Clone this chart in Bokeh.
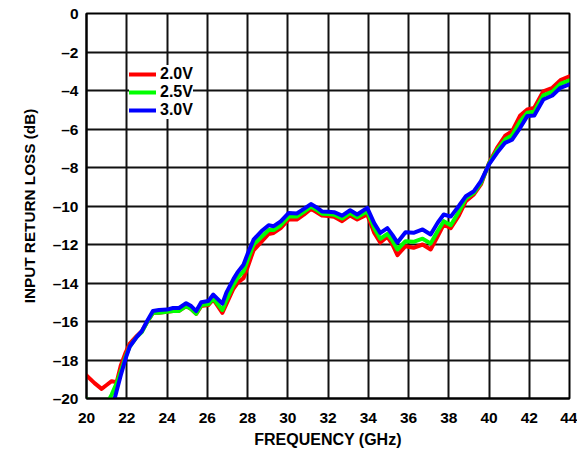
import numpy as np
from bokeh.plotting import figure
from bokeh.models import FixedTicker, Legend, LegendItem, Range1d
from bokeh.embed import file_html
from bokeh.resources import INLINE

freq = [20.0, 20.4, 20.75, 21.0, 21.25, 21.5, 21.7, 21.95, 22.15, 22.5, 22.75, 23.0,
        23.3, 23.6, 24.0, 24.3, 24.6, 24.95, 25.2, 25.45, 25.7, 26.05, 26.3, 26.75,
        26.95, 27.3, 27.5, 27.8, 28.0, 28.3, 28.7, 29.05, 29.3, 29.65, 30.05, 30.45,
        30.8, 31.15, 31.4, 31.7, 32.0, 32.3, 32.7, 33.1, 33.45, 33.95, 34.3, 34.6,
        34.95, 35.2, 35.45, 35.85, 36.25, 36.7, 37.1, 37.45, 37.75, 38.1, 38.5, 38.85,
        39.25, 39.6, 40.0, 40.4, 40.8, 41.15, 41.55, 41.9, 42.25, 42.7, 43.15, 43.55, 44.0]

v20 = [-18.8, -19.2, -19.5, -19.3, -19.1, -19.15, -18.3, -17.6, -17.15, -16.75, -16.5, -16.05,
       -15.55, -15.55, -15.5, -15.45, -15.45, -15.2, -15.35, -15.6, -15.2, -15.15, -14.85, -15.55,
       -15.1, -14.3, -14.0, -13.75, -13.2, -12.3, -11.85, -11.45, -11.4, -11.15, -10.7, -10.7,
       -10.45, -10.15, -10.3, -10.5, -10.52, -10.56, -10.79, -10.49, -10.7, -10.44, -11.4, -11.9,
       -11.6, -12.0, -12.55, -12.09, -12.17, -12.0, -12.26, -11.57, -10.96, -11.15, -10.5, -9.75,
       -9.4, -8.88, -7.76, -6.98, -6.35, -6.11, -5.3, -4.99, -4.9, -4.04, -3.86, -3.46, -3.26]

v25 = [-20.0, -20.4, -20.6, -20.3, -19.8, -19.2, -18.6, -17.8, -17.3, -16.8, -16.55, -16.05,
       -15.55, -15.55, -15.5, -15.45, -15.45, -15.2, -15.35, -15.6, -15.15, -15.1, -14.8, -15.4,
       -14.9, -14.1, -13.75, -13.4, -12.85, -12.0, -11.6, -11.25, -11.25, -11.0, -10.55, -10.55,
       -10.3, -10.03, -10.18, -10.4, -10.42, -10.45, -10.65, -10.36, -10.58, -10.28, -11.15, -11.7,
       -11.45, -11.8, -12.26, -11.83, -11.86, -11.7, -11.95, -11.3, -10.79, -11.0, -10.3, -9.6,
       -9.32, -8.8, -7.8, -7.1, -6.55, -6.33, -5.6, -5.16, -5.1, -4.25, -4.06, -3.66, -3.47]

v30 = [np.nan, np.nan, np.nan, np.nan, -20.6, -19.6, -18.8, -17.9, -17.3, -16.8, -16.5, -16.0,
       -15.45, -15.4, -15.38, -15.3, -15.3, -15.05, -15.2, -15.46, -15.0, -14.94, -14.6, -15.07,
       -14.5, -13.8, -13.45, -13.05, -12.5, -11.75, -11.3, -11.0, -11.05, -10.8, -10.36, -10.39,
       -10.15, -9.9, -10.05, -10.28, -10.3, -10.32, -10.5, -10.22, -10.44, -10.1, -10.9, -11.4,
       -11.15, -11.5, -11.9, -11.36, -11.39, -11.22, -11.48, -10.87, -10.44, -10.55, -10.0, -9.49,
       -9.23, -8.71, -7.84, -7.24, -6.72, -6.55, -5.94, -5.33, -5.3, -4.47, -4.26, -3.86, -3.68]

series_names = ["2.0V", "2.5V", "3.0V"]
series_vals = [v20, v25, v30]
series_colors = ["#FF0000", "#00FF00", "#0000FF"]

x_ticks = list(range(20, 45, 2))
y_ticks = list(range(-20, 1, 2))
y_tick_labels = {t: ("0" if t == 0 else "\u2013" + str(abs(t))) for t in y_ticks}

FONT = "Liberation Sans"

p = figure(width=577, height=451, output_backend="svg", toolbar_location=None,
           x_range=Range1d(20, 44), y_range=Range1d(-20, 0),
           min_border_left=86, min_border_right=8, min_border_top=13, min_border_bottom=53)

p.background_fill_color = "white"
p.border_fill_color = "white"
p.outline_line_color = "black"
p.outline_line_width = 2

for ax in (p.xaxis[0], p.yaxis[0]):
    ax.major_tick_in = 0
    ax.major_tick_out = 0
    ax.minor_tick_in = 0
    ax.minor_tick_out = 0
    ax.axis_line_color = "black"
    ax.axis_line_width = 2
    ax.major_label_text_font = FONT
    ax.major_label_text_font_style = "bold"
    ax.major_label_text_font_size = "15.5px"
    ax.major_label_text_color = "black"
    ax.axis_label_text_font = FONT
    ax.axis_label_text_font_style = "bold"
    ax.axis_label_text_color = "black"

p.xaxis.axis_label_text_font_size = "16px"
p.yaxis.axis_label_text_font_size = "15.3px"
p.xaxis.ticker = FixedTicker(ticks=x_ticks)
p.yaxis.ticker = FixedTicker(ticks=y_ticks)
p.yaxis.major_label_overrides = y_tick_labels
p.xaxis.major_label_standoff = 14
p.yaxis.major_label_standoff = 8
p.xaxis.axis_label = "FREQUENCY (GHz)"
p.yaxis.axis_label = "INPUT RETURN LOSS (dB)"
p.xaxis.axis_label_standoff = 5
p.yaxis.axis_label_standoff = 12

p.xgrid.ticker = FixedTicker(ticks=x_ticks)
p.ygrid.ticker = FixedTicker(ticks=y_ticks)
for g in (p.xgrid[0], p.ygrid[0]):
    g.grid_line_color = "#111111"
    g.grid_line_width = 2

renderers = []
for name, vals, col in zip(series_names, series_vals, series_colors):
    r = p.line(freq, vals, line_color=col, line_width=4, line_join="round", line_cap="round")
    renderers.append(r)

legend = Legend(items=[LegendItem(label=n, renderers=[r]) for n, r in zip(series_names, renderers)],
                location=(43, 279), orientation="vertical")
legend.background_fill_color = "white"
legend.background_fill_alpha = 1
legend.border_line_color = None
legend.label_text_font = FONT
legend.label_text_font_style = "bold"
legend.label_text_font_size = "16px"
legend.label_text_color = "black"
legend.glyph_width = 27
legend.glyph_height = 16
legend.label_height = 16
legend.label_standoff = 4
legend.spacing = 0
legend.padding = 9
legend.margin = 0
p.add_layout(legend, "center")

open("out.html", "w").write(file_html(p, INLINE))
